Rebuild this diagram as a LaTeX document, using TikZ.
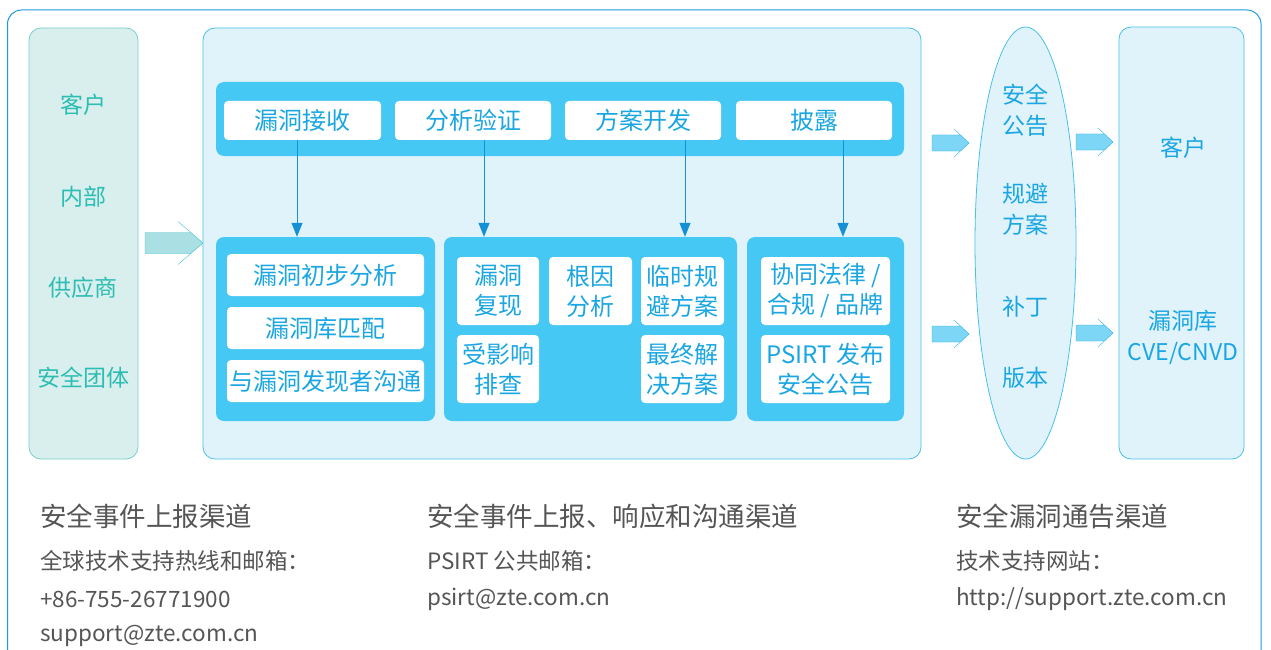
\documentclass[tikz,border=0pt]{standalone}
\usepackage{fontspec}
\setmainfont{Noto Sans CJK SC}
\usepackage{xcolor}
\usetikzlibrary{positioning, calc, arrows.meta, shapes.geometric}

\definecolor{framec}{HTML}{1E9BE0}
\definecolor{tealfill}{HTML}{D9EFED}
\definecolor{tealline}{HTML}{7ACFC9}
\definecolor{tealtext}{HTML}{2CBDB3}
\definecolor{panelfill}{HTML}{E0F3FB}
\definecolor{panelline}{HTML}{48C0EB}
\definecolor{barfill}{HTML}{45C8F3}
\definecolor{boxtext}{HTML}{1AA6E2}
\definecolor{flowc}{HTML}{1590D5}
\definecolor{fatfill}{HTML}{7DD6F5}
\definecolor{fatline}{HTML}{2CB5EA}
\definecolor{tfatfill}{HTML}{AADFE3}
\definecolor{tfatline}{HTML}{3DC2CF}
\definecolor{graytext}{HTML}{555555}

\newcommand{\fsz}[2]{\fontsize{#1}{#2}\selectfont}
% 粗箭头: 起点, 箭尖, 中心y, 箭身半高, 箭头半高, 箭头长, 颜色
\newcommand{\fatarrow}[7]{%
  \pgfmathsetmacro{\xj}{#2-#6*#4/#5}
  \fill[#7fill] (#1,#3-#4) -- (\xj,#3-#4) -- (#2,#3) -- (\xj,#3+#4) -- (#1,#3+#4) -- cycle;
  \draw[#7line] (#1,#3-#4) -- (\xj,#3-#4) (#1,#3+#4) -- (\xj,#3+#4) (#1,#3-#4) -- (#1,#3+#4)
     (#2-#6,#3-#5) -- (#2,#3) -- (#2-#6,#3+#5);
}

\tikzset{
  tealpanel/.style={draw=tealline, fill=tealfill, rounded corners=12pt, line width=0.8pt, inner sep=0pt},
  bluepanel/.style={draw=panelline, fill=panelfill, rounded corners=12pt, line width=0.8pt, inner sep=0pt},
  barbox/.style={fill=barfill, rounded corners=8pt, inner sep=0pt},
  wbox/.style={fill=white, rounded corners=4pt, text=boxtext, align=center, inner sep=0pt, font=\fsz{24}{30}},
  srctext/.style={text=tealtext, font=\fsz{23}{28}},
  pubtext/.style={text=boxtext, align=center, font=\fsz{23}{31}},
  flow/.style={-{Triangle[width=11pt,length=14pt]}, flowc, line width=1pt},
  headtxt/.style={anchor=west, text=graytext, font=\fsz{26.5}{30}, inner sep=0pt},
  infotxt/.style={anchor=west, text=graytext, font=\fsz{22.5}{26}, inner sep=0pt},
}

\begin{document}
\begin{tikzpicture}[x=1pt, y=-1pt]
  \clip (0,0) rectangle (1271,650);
  \fill[white] (0,0) rectangle (1271,650);
  \draw[framec, line width=1pt, rounded corners=14pt] (7.5,10) rectangle (1261,700);%外框

  % 上报来源
  \node[tealpanel, minimum width=109pt, minimum height=431pt] (src) at (83.5,243.5) {};
  \node[srctext] (s1) at (83,105) {客户};
  \node[srctext] (s2) at (83,197) {内部};
  \node[srctext] (s3) at (83,288) {供应商};
  \node[srctext] (s4) at (83,378) {安全团体};
  \fatarrow{145}{203}{243}{10.5}{21.5}{25}{tfat}

  % 处理流程
  \node[bluepanel, minimum width=718pt, minimum height=431pt] (proc) at (562,243.5) {};
  \node[barbox, minimum width=688pt, minimum height=74pt] (bar) at (560,119) {};
  \node[wbox, minimum width=157pt, minimum height=39pt] (rcv) at (302.5,120.5) {漏洞接收};
  \node[wbox, minimum width=156pt, minimum height=39pt] (ana) at (473,120.5) {分析验证};
  \node[wbox, minimum width=156pt, minimum height=39pt] (dev) at (643,120.5) {方案开发};
  \node[wbox, minimum width=156pt, minimum height=39pt] (dis) at (814,120.5) {披露};

  \node[barbox, minimum width=219pt, minimum height=184pt] (g1) at (325.5,329) {};
  \node[barbox, minimum width=293pt, minimum height=184pt] (g2) at (590.5,329) {};
  \node[barbox, minimum width=157pt, minimum height=184pt] (g3) at (825.5,329) {};

  \node[wbox, minimum width=197pt, minimum height=42pt] (g1a) at (325.5,275) {漏洞初步分析};
  \node[wbox, minimum width=197pt, minimum height=42pt] (g1b) at (325.5,328) {漏洞库匹配};
  \node[wbox, minimum width=197pt, minimum height=42pt] (g1c) at (325.5,381) {与漏洞发现者沟通};

  \node[wbox, minimum width=82pt, minimum height=68pt] (g2a) at (498,291) {漏洞\\复现};
  \node[wbox, minimum width=83pt, minimum height=68pt] (g2b) at (590.5,291) {根因\\分析};
  \node[wbox, minimum width=83pt, minimum height=68pt] (g2c) at (682.5,291) {临时规\\避方案};
  \node[wbox, minimum width=82pt, minimum height=68pt] (g2d) at (498,369) {受影响\\排查};
  \node[wbox, minimum width=83pt, minimum height=68pt] (g2e) at (682.5,369) {最终解\\决方案};

  \node[wbox, minimum width=129pt, minimum height=68pt] (g3a) at (825.5,291) {协同法律 /\\合规 / 品牌};
  \node[wbox, minimum width=129pt, minimum height=68pt] (g3b) at (825.5,369) {PSIRT 发布\\安全公告};

  \draw[flow] ([xshift=-5.5pt]rcv.south) -- ([xshift=-5.5pt]rcv.south |- g1.north);
  \draw[flow] ([xshift=11pt]ana.south) -- ([xshift=11pt]ana.south |- g2.north);
  \draw[flow] ([xshift=42pt]dev.south) -- ([xshift=42pt]dev.south |- g2.north);
  \draw[flow] ([xshift=29pt]dis.south) -- ([xshift=29pt]dis.south |- g3.north);

  \fatarrow{932}{969}{143}{8}{14}{15}{fat}
  \fatarrow{932}{969}{334}{8}{14}{15}{fat}

  % 发布内容
  \node[ellipse, draw=panelline, fill=panelfill, line width=0.8pt, inner sep=0pt,
        minimum width=101pt, minimum height=432pt] (pub) at (1025.5,243) {};
  \node[pubtext] (p1) at (1025,110) {安全\\公告};
  \node[pubtext] (p2) at (1025,209) {规避\\方案};
  \node[pubtext] (p3) at (1025,307) {补丁};
  \node[pubtext] (p4) at (1025,378) {版本};

  \fatarrow{1076}{1113}{142}{8}{14}{15}{fat}
  \fatarrow{1076}{1113}{333}{8}{14}{15}{fat}

  % 通告对象
  \node[bluepanel, minimum width=125pt, minimum height=432pt] (dst) at (1181.5,243) {};
  \node[pubtext] (d1) at (1183,148) {客户};
  \node[pubtext] (d2) at (1183,337) {漏洞库\\CVE/CNVD};

  % 渠道说明
  \node[headtxt] (h1) at (40,516) {安全事件上报渠道};
  \node[infotxt] (h1a) at (40,561) {全球技术支持热线和邮箱：};
  \node[infotxt] (h1b) at (40,599) {+86-755-26771900};
  \node[infotxt] (h1c) at (40,636) {support@zte.com.cn};
  \node[headtxt] (h2) at (427,516) {安全事件上报、响应和沟通渠道};
  \node[infotxt] (h2a) at (427,561) {PSIRT 公共邮箱：};
  \node[infotxt] (h2b) at (427,599) {psirt@zte.com.cn};
  \node[headtxt] (h3) at (956,516) {安全漏洞通告渠道};
  \node[infotxt] (h3a) at (956,561) {技术支持网站：};
  \node[infotxt] (h3b) at (956,599) {http://support.zte.com.cn};
\end{tikzpicture}
\end{document}
